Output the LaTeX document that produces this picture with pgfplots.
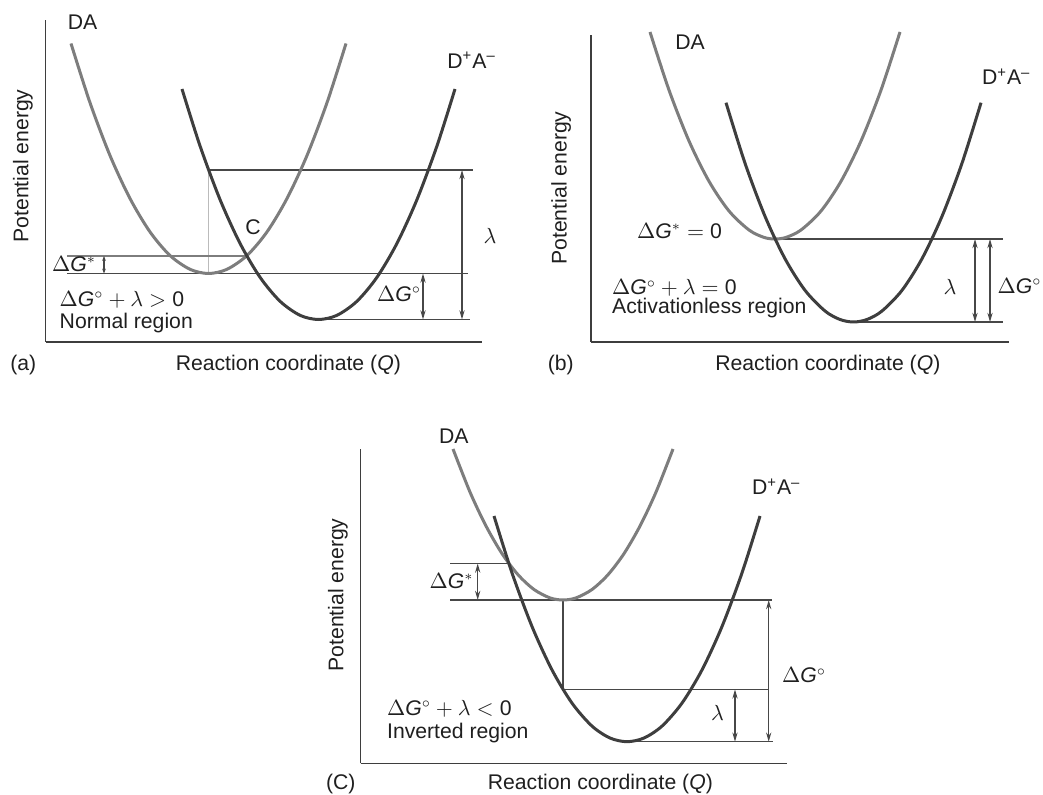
\documentclass[border=0pt]{standalone}
\usepackage{fontspec}
\setmainfont{Liberation Sans}
\usepackage{pgfplots}
\pgfplotsset{compat=1.18}
\usetikzlibrary{arrows.meta}

\definecolor{dagray}{HTML}{7D7D7D}
\definecolor{ctgray}{HTML}{3E3E3E}
\definecolor{lvlgray}{HTML}{474747}
\definecolor{vgray}{HTML}{BBBBBB}
\definecolor{txtgray}{HTML}{1F1F1F}

\newcommand{\dG}{$\Delta$\textit{G}}
\newcommand{\DpAm}{D\textsuperscript{+}A\textsuperscript{–}}

\pgfplotsset{
  marcus/.style={
    scale only axis, anchor=south west, clip=false,
    axis x line*=bottom, axis y line*=left,
    axis line style={-, line width=0.75pt, color=ctgray},
    ticks=none,
    label style={text=txtgray, inner sep=0pt, anchor=base},
  },
  da/.style={color=dagray, line width=1.5pt, smooth},
  ct/.style={color=ctgray, line width=1.5pt, smooth},
  lvl/.style={color=lvlgray, line width=0.65pt},
  gap/.style={color=lvlgray, line width=0.65pt,
    arrows={Stealth[length=4.6pt,width=2.6pt]-Stealth[length=4.6pt,width=2.6pt]}},
  gapsmall/.style={color=lvlgray, line width=0.55pt,
    arrows={Stealth[length=2.4pt,width=1.8pt]-Stealth[length=2.4pt,width=1.8pt]}},
}

\begin{document}
\fontsize{10.6}{12.7}\selectfont
\begin{tikzpicture}[every node/.append style={inner sep=0pt, text=txtgray}]
\path[use as bounding box] (0,0) rectangle (521.5pt,-397.5pt);

% (a) normal region
\begin{axis}[marcus,
  at={(22.85pt,-171pt)}, width=218.15pt, height=161pt,
  xmin=45.7, xmax=482, ymin=-342, ymax=-20,
  xlabel={Reaction coordinate (\textit{Q})},
  ylabel={Potential energy},
  xlabel style={at={(axis description cs:0.556,-0.0885)}},
  ylabel style={at={(axis description cs:-0.0399,0.5466)}},
]
\addplot[lvl] coordinates {(208.5,-170) (473,-170)};
\addplot[color=vgray, line width=0.65pt] coordinates {(208.5,-170) (208.5,-273.5)};
\addplot[color=dagray, line width=0.65pt] coordinates {(67,-256) (247,-256)};
\addplot[lvl] coordinates {(67,-273.5) (468,-273.5)};
\addplot[lvl] coordinates {(318.5,-319.5) (470,-319.5)};
\addplot[da] coordinates {(71,-43.5) (90,-102.7) (110,-155.5) (130,-198.5) (150,-231.9)
  (170,-255.5) (190,-269.3) (208.5,-273.5) (227,-269.3) (247,-255.5) (267,-231.9)
  (287,-198.5) (307,-155.5) (327,-102.7) (346,-43.5)};
\addplot[ct] coordinates {(182,-89) (200,-145.8) (220,-199.5) (240,-243.3) (260,-277.2)
  (280,-301.2) (300,-315.3) (318.5,-319.5) (337,-315.3) (357,-301.2) (377,-277.2)
  (397,-243.3) (417,-199.5) (437,-145.8) (455,-89)};
\addplot[gapsmall] coordinates {(104,-256) (104,-273.5)};
\addplot[gap] coordinates {(423,-273.5) (423,-319.5)};
\addplot[gap] coordinates {(462,-170) (462,-319.5)};
\node[anchor=base] at (axis cs:82.5,-30) {DA};
\node[anchor=base west] at (axis cs:447,-68.3) {\DpAm};
\node[anchor=base] at (axis cs:253,-235) {C};
\node[anchor=base west] at (axis cs:51.7,-271.7) {\dG$^{*}$};
\node[anchor=base west] at (axis cs:59.3,-306.7) {\dG$^{\circ}+\lambda>{}$0};
\node[anchor=base west] at (axis cs:59.3,-328.3) {Normal region};
\node[anchor=base west] at (axis cs:376.7,-301.7) {\dG$^{\circ}$};
\node[anchor=base] at (axis cs:490,-243.3) {$\lambda$};
\node[anchor=base] at (axis cs:23.3,-370.5) {(a)};
\end{axis}

% (b) activationless region
\begin{axis}[marcus,
  at={(295.5pt,-171pt)}, width=209pt, height=153.5pt,
  xmin=591, xmax=1009, ymin=-342, ymax=-35,
  xlabel={Reaction coordinate (\textit{Q})},
  ylabel={Potential energy},
  xlabel style={at={(axis description cs:0.5665,-0.0928)}},
  ylabel style={at={(axis description cs:-0.0581,0.5016)}},
]
\addplot[lvl] coordinates {(775,-239) (1003,-239)};
\addplot[lvl] coordinates {(853.5,-322) (1003,-322)};
\addplot[da] coordinates {(650,-32) (669,-90.1) (689,-141.0) (709,-181.3) (729,-211.0)
  (749,-230.0) (764,-237.4) (775,-239) (786,-237.4) (801,-230.0) (821,-211.0)
  (841,-181.3) (861,-141.0) (881,-90.1) (900,-32)};
\addplot[ct] coordinates {(726,-102.7) (745,-163.2) (765,-216.3) (785,-258.7) (805,-290.3)
  (825,-311.0) (840,-319.5) (853.5,-322) (867,-319.5) (882,-311.0) (902,-290.3)
  (922,-258.7) (942,-216.3) (962,-163.2) (981,-102.7)};
\addplot[gap] coordinates {(975,-239) (975,-322)};
\addplot[gap] coordinates {(990,-239) (990,-322)};
\node[anchor=base] at (axis cs:690,-50) {DA};
\node[anchor=base west] at (axis cs:981.7,-85) {\DpAm};
\node[anchor=base west] at (axis cs:636.7,-238.3) {\dG$^{*}={}$0};
\node[anchor=base west] at (axis cs:611.7,-295) {\dG$^{\circ}+\lambda={}$0};
\node[anchor=base west] at (axis cs:611.7,-314) {Activationless region};
\node[anchor=base] at (axis cs:950,-295) {$\lambda$};
\node[anchor=base east] at (axis cs:1042,-293.3) {\dG$^{\circ}$};
\node[anchor=base] at (axis cs:560.8,-370.5) {(b)};
\end{axis}

% (C) inverted region
\begin{axis}[marcus,
  at={(180.35pt,-381.65pt)}, width=213.3pt, height=157pt,
  xmin=360.7, xmax=787.3, ymin=-763.3, ymax=-449.3,
  xlabel={Reaction coordinate (\textit{Q})},
  ylabel={Potential energy},
  xlabel style={at={(axis description cs:0.5617,-0.085)}},
  ylabel style={at={(axis description cs:-0.0408,0.536)}},
]
\addplot[lvl] coordinates {(450,-563.5) (508.5,-563.5)};
\addplot[lvl] coordinates {(450,-600) (772,-600)};
\addplot[lvl] coordinates {(563,-600) (563,-689.4)};
\addplot[lvl] coordinates {(563,-689.4) (769.3,-689.4)};
\addplot[lvl] coordinates {(627,-741.7) (773.3,-741.7)};
\addplot[da] coordinates {(453,-449.0) (470,-492.1) (486,-526.0) (502,-553.6) (518,-574.7)
  (534,-589.5) (550,-597.9) (563,-600) (576,-597.9) (592,-589.5) (608,-574.7)
  (624,-553.6) (640,-526.0) (656,-492.1) (673,-449.0)};
\addplot[ct] coordinates {(494,-516.0) (512,-572.9) (532,-626.5) (552,-669.9) (572,-703.1)
  (592,-726.1) (610,-738.0) (627,-741.7) (644,-738.0) (662,-726.1) (682,-703.1)
  (702,-669.9) (722,-626.5) (742,-572.9) (760,-516.0)};
\addplot[gap] coordinates {(477.7,-563.5) (477.7,-600)};
\addplot[gap] coordinates {(735,-689.4) (735,-741.7)};
\addplot[gap] coordinates {(768.7,-600) (768.7,-741.7)};
\node[anchor=base] at (axis cs:453.8,-443.3) {DA};
\node[anchor=base west] at (axis cs:751.7,-495) {\DpAm};
\node[anchor=base west] at (axis cs:429.3,-588.3) {\dG$^{*}$};
\node[anchor=base west] at (axis cs:386.7,-715) {\dG$^{\circ}+\lambda<{}$0};
\node[anchor=base west] at (axis cs:386.7,-738.3) {Inverted region};
\node[anchor=base] at (axis cs:717.5,-720) {$\lambda$};
\node[anchor=base west] at (axis cs:781.7,-683) {\dG$^{\circ}$};
\node[anchor=base] at (axis cs:340.8,-789) {(C)};
\end{axis}
\end{tikzpicture}
\end{document}
